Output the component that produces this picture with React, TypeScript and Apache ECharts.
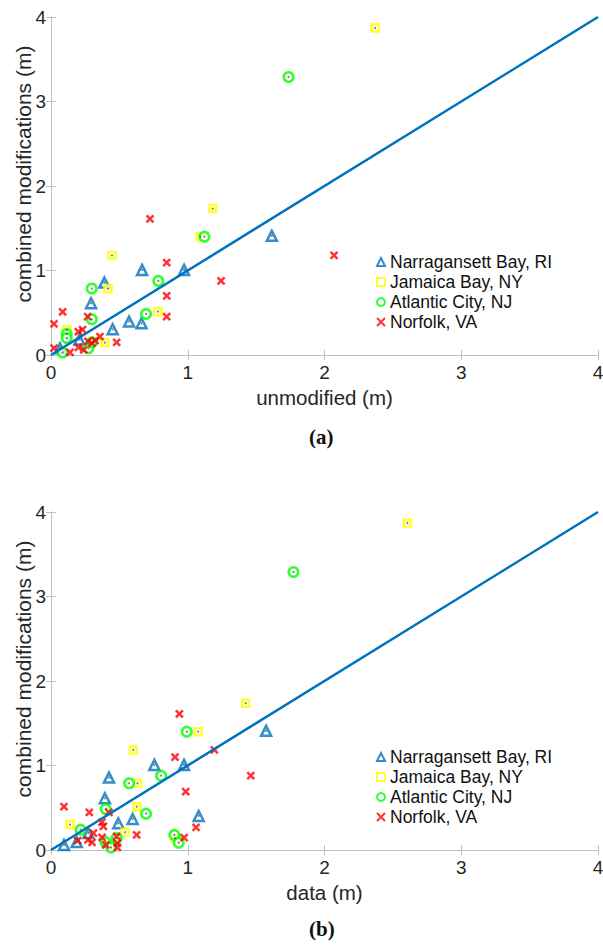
import React, { useEffect, useRef } from "react";
import * as echarts from "echarts";

const seriesNames = ["Narragansett Bay, RI", "Jamaica Bay, NY", "Atlantic City, NJ", "Norfolk, VA"];
const axisTicks = [0, 1, 2, 3, 4];
const xTitleA = "unmodified (m)";
const xTitleB = "data (m)";
const yTitle = "combined modifications (m)";
const identityLine = [[0, 0], [4, 4]];

// panel (a): unmodified vs combined modifications
const aNarr = [[1.615, 1.41], [0.973, 1.007], [0.666, 1.007], [0.39, 0.857], [0.293, 0.612], [0.451, 0.304], [0.571, 0.397], [0.662, 0.375], [0.207, 0.182], [0.066, 0.08]];
const aJam = [[2.37, 3.87], [1.183, 1.733], [1.09, 1.4], [0.446, 1.18], [0.417, 0.786], [0.783, 0.513], [0.115, 0.298], [0.394, 0.146]];
const aAtl = [[1.737, 3.29], [1.122, 1.4], [0.785, 0.876], [0.298, 0.786], [0.298, 0.422], [0.695, 0.486], [0.115, 0.25], [0.115, 0.2], [0.085, 0.03], [0.273, 0.08], [0.3, 0.15]];
const aNor = [[2.07, 1.18], [0.724, 1.61], [0.846, 1.094], [1.244, 0.876], [0.846, 0.699], [0.846, 0.454], [0.085, 0.51], [0.022, 0.367], [0.268, 0.454], [0.2, 0.276], [0.231, 0.3], [0.358, 0.217], [0.322, 0.17], [0.3, 0.14], [0.27, 0.16], [0.48, 0.15], [0.2, 0.09], [0.24, 0.06], [0.139, 0.03], [0.022, 0.08]];

// panel (b): data vs combined modifications
const bNarr = [[1.573, 1.41], [0.973, 1.007], [0.756, 1.007], [0.424, 0.857], [0.394, 0.612], [0.492, 0.316], [0.597, 0.367], [1.08, 0.403], [0.273, 0.2], [0.188, 0.095], [0.095, 0.059]];
const bJam = [[2.606, 3.87], [1.424, 1.737], [1.076, 1.4], [0.602, 1.184], [0.632, 0.79], [0.627, 0.513], [0.139, 0.3], [0.541, 0.21], [0.907, 0.14]];
const bAtl = [[1.773, 3.29], [0.993, 1.4], [0.805, 0.88], [0.571, 0.79], [0.695, 0.43], [0.4, 0.485], [0.217, 0.24], [0.902, 0.178], [0.934, 0.087], [0.398, 0.095], [0.439, 0.03], [0.48, 0.14]];
const bNor = [[0.939, 1.61], [0.907, 1.098], [1.195, 1.184], [1.461, 0.88], [0.985, 0.691], [1.061, 0.268], [0.973, 0.146], [0.626, 0.178], [0.095, 0.513], [0.28, 0.446], [0.424, 0.446], [0.373, 0.33], [0.383, 0.28], [0.195, 0.11], [0.31, 0.2], [0.27, 0.12], [0.3, 0.09], [0.373, 0.15], [0.48, 0.16], [0.485, 0.08], [0.485, 0.03], [0.4, 0.06]];

const BLUE = "#0072BD";
const AXC = "#bfbfbf";
const TXT = "#262626";
const FONT = "Liberation Sans";
const X_PATH = "path://M0,0L10,10M10,0L0,10";

function App() {
  const ref = useRef<HTMLDivElement>(null);
  useEffect(() => {
    if (!ref.current) return;
    const chart = echarts.init(ref.current, null, { renderer: "svg" });

    const grids = [
      { left: 51, top: 17, width: 547, height: 338, outerBoundsMode: "none", containLabel: false },
      { left: 51, top: 512, width: 547, height: 338, outerBoundsMode: "none", containLabel: false },
    ];
    const xAxes: any[] = [];
    const yAxes: any[] = [];
    const titles = [xTitleA, xTitleB];
    grids.forEach((g, gi) => {
      const base = {
        type: "value",
        gridIndex: gi,
        min: axisTicks[0],
        max: axisTicks[axisTicks.length - 1],
        interval: 1,
        splitLine: { show: false },
        axisLine: { show: true, lineStyle: { color: AXC, width: 1 } },
        axisTick: { show: true, inside: true, length: 5, lineStyle: { color: AXC } },
      };
      xAxes.push({
        ...base,
        position: "bottom",
        axisLabel: { color: TXT, fontSize: 19, fontFamily: FONT, margin: 8 },
        name: titles[gi],
        nameLocation: "middle",
        nameGap: 32,
        nameTextStyle: { color: TXT, fontSize: 20.5, fontFamily: FONT },
      });
      xAxes.push({ ...base, position: "top", axisLabel: { show: false } });
      yAxes.push({
        ...base,
        position: "left",
        axisLabel: { color: TXT, fontSize: 19, fontFamily: FONT, margin: 5 },
      });
      yAxes.push({ ...base, position: "right", axisLabel: { show: false } });
    });

    const sets = [
      [aNarr, aJam, aAtl, aNor],
      [bNarr, bJam, bAtl, bNor],
    ];
    const styles = [
      { symbol: "triangle", symbolSize: 10, itemStyle: { color: "#ffffff", borderColor: BLUE, borderWidth: 2.5 } },
      { symbol: "rect", symbolSize: 7, itemStyle: { color: "#ffffff", borderColor: "#ffff00", borderWidth: 2.6 } },
      { symbol: "circle", symbolSize: 9.5, itemStyle: { color: "#ffffff", borderColor: "#00ff00", borderWidth: 2.6 } },
      { symbol: X_PATH, symbolSize: 7, itemStyle: { color: "#ff0000", borderColor: "#ff0000", borderWidth: 2.5 } },
    ];
    const series: any[] = [];
    sets.forEach((set, gi) => {
      set.forEach((data, si) => {
        series.push({
          type: "scatter",
          name: seriesNames[si],
          xAxisIndex: gi * 2,
          yAxisIndex: gi * 2,
          data,
          ...styles[si],
        });
      });
      series.push({
        type: "scatter",
        name: "centers" + gi,
        xAxisIndex: gi * 2,
        yAxisIndex: gi * 2,
        data: [...set[0], ...set[1], ...set[2]],
        symbol: "circle",
        symbolSize: 2,
        itemStyle: { color: "#555555" },
        silent: true,
      });
      series.push({
        type: "line",
        name: "identity" + gi,
        xAxisIndex: gi * 2,
        yAxisIndex: gi * 2,
        data: identityLine,
        showSymbol: false,
        symbol: "none",
        lineStyle: { color: BLUE, width: 2.5 },
        silent: true,
        z: 3,
      });
    });

    const legendBase = {
      orient: "vertical",
      data: seriesNames,
      left: 376,
      itemWidth: 8,
      itemHeight: 8,
      itemGap: 0,
      padding: 0,
      selectedMode: false,
      textStyle: { color: "#111111", fontSize: 17.5, lineHeight: 20, fontFamily: FONT, padding: [0, 0, 0, 0] },
    };

    const yTitleText = (cy: number) => ({
      type: "text",
      x: 23,
      y: cy,
      rotation: Math.PI / 2,
      style: { text: yTitle, fontSize: 21, fontFamily: FONT, fill: TXT, align: "center", verticalAlign: "middle" },
    });

    chart.setOption({
      animation: false,
      backgroundColor: "#ffffff",
      grid: grids,
      xAxis: xAxes,
      yAxis: yAxes,
      legend: [
        { ...legendBase, top: 252 },
        { ...legendBase, top: 747 },
      ],
      series,
      graphic: [
        yTitleText(174),
        yTitleText(669),
        { type: "text", left: 309, top: 426, style: { text: "(a)", fontSize: 21, fontWeight: "bold", fontFamily: "Liberation Serif", fill: "#111111" } },
        { type: "text", left: 309, top: 918, style: { text: "(b)", fontSize: 21, fontWeight: "bold", fontFamily: "Liberation Serif", fill: "#111111" } },
      ],
    });
    return () => chart.dispose();
  }, []);
  return <div ref={ref} style={{ position: "absolute", left: 0, top: 0, width: 603, height: 945 }} />;
}

export default App;
